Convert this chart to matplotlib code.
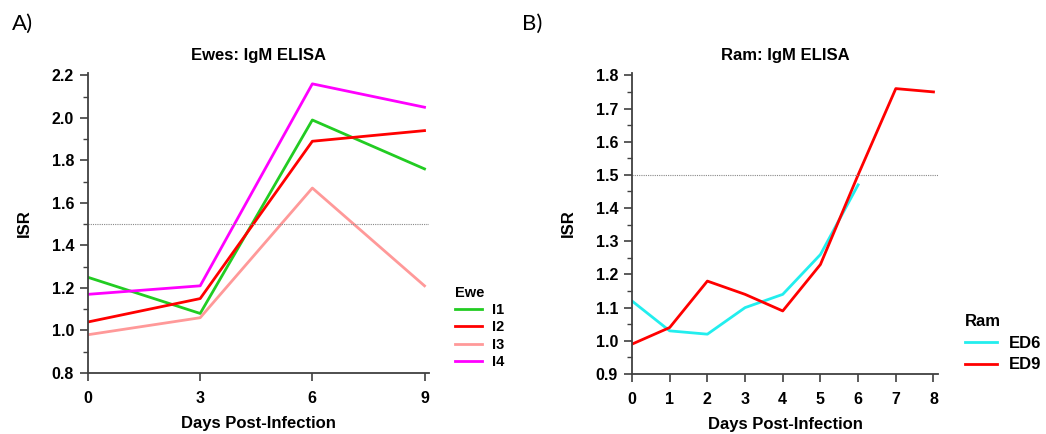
import matplotlib
matplotlib.use("Agg")
import matplotlib.pyplot as plt

plt.rcParams['font.family'] = ['Liberation Sans', 'DejaVu Sans']

# Panel A data
days_a = [0, 3, 6, 9]
ewe_names = ["I1", "I2", "I3", "I4"]
i1 = [1.25, 1.08, 1.99, 1.76]
i2 = [1.04, 1.15, 1.89, 1.94]
i3 = [0.98, 1.06, 1.67, 1.21]
i4 = [1.17, 1.21, 2.16, 2.05]
ewe_colors = ["#22CC22", "#FF0000", "#FF9999", "#FF00FF"]

# Panel B data
days_ed6 = [0, 1, 2, 3, 4, 5, 6]
ed6 = [1.12, 1.03, 1.02, 1.10, 1.14, 1.26, 1.47]
days_ed9 = [0, 1, 2, 3, 4, 5, 6, 7, 8]
ed9 = [0.99, 1.04, 1.18, 1.14, 1.09, 1.23, 1.50, 1.76, 1.75]
ram_names = ["ED6", "ED9"]
ram_colors = ["#22EEEE", "#FF0000"]

cutoff = 1.5

fig = plt.figure(figsize=(10.46, 4.34), dpi=100)
W, H = 1046, 434

def ax_rect(l, t, r, b):
    return [l / W, 1 - b / H, (r - l) / W, (b - t) / H]

spine_col = "#404040"

def style(ax):
    for s in ["top", "right"]:
        ax.spines[s].set_visible(False)
    for s in ["left", "bottom"]:
        ax.spines[s].set_color(spine_col)
        ax.spines[s].set_linewidth(1.3)
    ax.tick_params(which="major", length=6, width=1.2, color=spine_col,
                   labelsize=11.5)
    ax.tick_params(axis="y", which="major", pad=4)
    ax.tick_params(axis="x", which="major", pad=7)
    ax.tick_params(which="minor", length=3.6, width=1.0, color=spine_col)
    ax.tick_params(axis="x", which="minor", bottom=False)
    for lab in ax.get_xticklabels() + ax.get_yticklabels():
        lab.set_fontweight("bold")

# Panel A
axA = fig.add_axes(ax_rect(88, 73, 429, 373))
for name, vals, c in zip(ewe_names, [i1, i2, i3, i4], ewe_colors):
    axA.plot(days_a, vals, color=c, lw=2.0, label=name)
axA.axhline(cutoff, color="#888888", lw=0.8, ls=(0, (1, 1)))
axA.set_xlim(0, 9.12)
axA.set_ylim(0.8, 2.211)
axA.set_xticks(days_a)
axA.set_yticks([0.8, 1.0, 1.2, 1.4, 1.6, 1.8, 2.0, 2.2])
axA.set_yticks([0.9, 1.1, 1.3, 1.5, 1.7, 1.9, 2.1], minor=True)
axA.set_yticklabels(["0.8", "1.0", "1.2", "1.4", "1.6", "1.8", "2.0", "2.2"])
style(axA)
axA.set_title("Ewes: IgM ELISA", fontsize=12, fontweight="bold", pad=9.5)
axA.set_xlabel("Days Post-Infection", fontsize=12, fontweight="bold", labelpad=7.5)
axA.set_ylabel("ISR", fontsize=12, fontweight="bold", labelpad=14)
legA = axA.legend(title="Ewe", loc="upper left", bbox_to_anchor=(455 / W, 1 - 286 / H),
                  bbox_transform=fig.transFigure, frameon=False, fontsize=10.5,
                  title_fontproperties={"weight": "bold", "size": 10.5},
                  handlelength=1.86, handletextpad=0.7, labelspacing=0.22,
                  alignment="left", borderaxespad=0, borderpad=0)
for t in legA.get_texts():
    t.set_fontweight("bold")

# Panel B
axB = fig.add_axes(ax_rect(632, 73, 938, 374))
axB.plot(days_ed6, ed6, color=ram_colors[0], lw=2.0, label=ram_names[0])
axB.plot(days_ed9, ed9, color=ram_colors[1], lw=2.0, label=ram_names[1])
axB.axhline(cutoff, color="#888888", lw=0.8, ls=(0, (1, 1)))
axB.set_xlim(0, 8.12)
axB.set_ylim(0.9, 1.807)
axB.set_xticks(days_ed9)
axB.set_yticks([0.9, 1.0, 1.1, 1.2, 1.3, 1.4, 1.5, 1.6, 1.7, 1.8])
axB.set_yticks([0.95, 1.05, 1.15, 1.25, 1.35, 1.45, 1.55, 1.65, 1.75], minor=True)
axB.set_yticklabels(["0.9", "1.0", "1.1", "1.2", "1.3", "1.4", "1.5", "1.6", "1.7", "1.8"])
style(axB)
axB.set_title("Ram: IgM ELISA", fontsize=12, fontweight="bold", pad=9.5)
axB.set_xlabel("Days Post-Infection", fontsize=12, fontweight="bold", labelpad=7.5)
axB.set_ylabel("ISR", fontsize=12, fontweight="bold", labelpad=14)
legB = axB.legend(title="Ram", loc="upper left", bbox_to_anchor=(965 / W, 1 - 314 / H),
                  bbox_transform=fig.transFigure, frameon=False, fontsize=12,
                  title_fontproperties={"weight": "bold", "size": 12},
                  handlelength=1.94, handletextpad=0.72, labelspacing=0.4,
                  alignment="left", borderaxespad=0, borderpad=0)
for t in legB.get_texts():
    t.set_fontweight("bold")

fig.text(12 / W, 1 - 24 / H, "A)", fontsize=16, family=["Lato", "DejaVu Sans"], va="center", ha="left")
fig.text(522 / W, 1 - 24 / H, "B)", fontsize=16, family=["Lato", "DejaVu Sans"], va="center", ha="left")

fig.savefig("out.png", dpi=100)
